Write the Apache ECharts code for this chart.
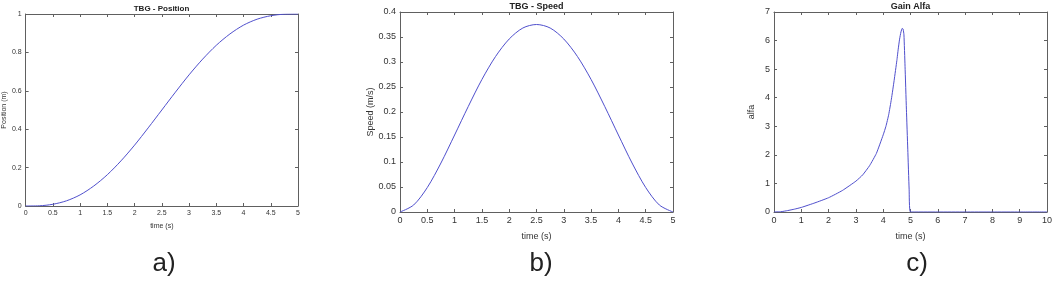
<!DOCTYPE html>
<html>
<head>
<meta charset="utf-8">
<script src="https://cdn.jsdelivr.net/npm/echarts/dist/echarts.min.js"></script>
<style>
html, body { margin: 0; padding: 0; background: #fff; }
#main { width: 1058px; height: 283px; }
</style>
</head>
<body>
<div id="main"></div>
<script>
// values
var timeA = [0, 0.25, 0.5, 0.75, 1, 1.25, 1.5, 1.75, 2, 2.25, 2.5, 2.75, 3, 3.25, 3.5, 3.75, 4, 4.25, 4.5, 4.75, 5];
var posA = [0, 0.001, 0.009, 0.027, 0.058, 0.104, 0.163, 0.235, 0.317, 0.407, 0.5, 0.593, 0.683, 0.765, 0.837, 0.896, 0.942, 0.973, 0.991, 0.999, 1];
var speedB = [0, 0.014, 0.049, 0.098, 0.154, 0.211, 0.265, 0.311, 0.346, 0.368, 0.375, 0.368, 0.346, 0.311, 0.265, 0.211, 0.154, 0.098, 0.049, 0.014, 0];
var timeC = [0, 0.25, 0.5, 0.75, 1, 1.5, 2, 2.5, 3, 3.25, 3.5, 3.75, 4, 4.1, 4.2, 4.3, 4.4, 4.5, 4.55, 4.6, 4.65, 4.7, 4.73, 4.76, 4.8, 4.85, 4.9, 4.95, 5, 6, 7, 8, 9, 10];
var alfaC = [0, 0.01, 0.05, 0.1, 0.16, 0.32, 0.5, 0.75, 1.08, 1.3, 1.62, 2.05, 2.7, 3.0, 3.4, 3.95, 4.6, 5.3, 5.7, 6.05, 6.3, 6.43, 6.4, 6.2, 5.1, 3.6, 2.2, 0.8, 0, 0, 0, 0, 0, 0];

var titles = ['TBG - Position', 'TBG - Speed', 'Gain Alfa'];
var yNames = ['Position (m)', 'Speed (m/s)', 'alfa'];
var panelTags = ['a)', 'b)', 'c)'];

var FONT = '"Liberation Sans", Arial, sans-serif';
var AXIS_COLOR = '#606060';
var LINE_COLOR = '#4f4fcc';

function pairs(xs, ys) {
  var out = [];
  for (var i = 0; i < xs.length; i++) {
    out.push([xs[i], ys[i]]);
  }
  return out;
}

// box style axis like matlab: ticks inside on all 4 sides
function makeAxis(gi, pos, min, max, step, fs, name, gap, labels) {
  return {
    type: 'value',
    gridIndex: gi,
    position: pos,
    min: min,
    max: max,
    interval: step,
    name: labels ? name : '',
    nameLocation: 'middle',
    nameGap: gap,
    nameTextStyle: { fontFamily: FONT, fontSize: fs, color: '#333' },
    axisLine: { show: true, onZero: false, lineStyle: { color: AXIS_COLOR, width: 1 } },
    axisTick: { show: true, inside: true, length: 3, lineStyle: { color: AXIS_COLOR } },
    axisLabel: { show: labels, margin: 4, fontFamily: FONT, fontSize: fs, color: '#333' },
    splitLine: { show: false }
  };
}

var chart = echarts.init(document.getElementById('main'));

var option = {
  backgroundColor: '#fff',
  animation: false,
  grid: [
    { left: 25, top: 14, width: 273, height: 192 },
    { left: 400, top: 12, width: 273, height: 200 },
    { left: 774, top: 12, width: 273, height: 200 }
  ],
  xAxis: [
    makeAxis(0, 'bottom', 0, 5, 0.5, 7, 'time (s)', 17, true),
    makeAxis(0, 'top', 0, 5, 0.5, 7, '', 0, false),
    makeAxis(1, 'bottom', 0, 5, 0.5, 9, 'time (s)', 20, true),
    makeAxis(1, 'top', 0, 5, 0.5, 9, '', 0, false),
    makeAxis(2, 'bottom', 0, 10, 1, 9, 'time (s)', 20, true),
    makeAxis(2, 'top', 0, 10, 1, 9, '', 0, false)
  ],
  yAxis: [
    makeAxis(0, 'left', 0, 1, 0.2, 7, yNames[0], 15, true),
    makeAxis(0, 'right', 0, 1, 0.2, 7, '', 0, false),
    makeAxis(1, 'left', 0, 0.4, 0.05, 9, yNames[1], 23, true),
    makeAxis(1, 'right', 0, 0.4, 0.05, 9, '', 0, false),
    makeAxis(2, 'left', 0, 7, 1, 9, yNames[2], 18, true),
    makeAxis(2, 'right', 0, 7, 1, 9, '', 0, false)
  ],
  graphic: [],
  series: [
    {
      type: 'line', xAxisIndex: 0, yAxisIndex: 0,
      data: pairs(timeA, posA), smooth: 0.3, showSymbol: false,
      lineStyle: { color: LINE_COLOR, width: 1 }
    },
    {
      type: 'line', xAxisIndex: 2, yAxisIndex: 2,
      data: pairs(timeA, speedB), smooth: 0.3, showSymbol: false,
      lineStyle: { color: LINE_COLOR, width: 1 }
    },
    {
      type: 'line', xAxisIndex: 4, yAxisIndex: 4,
      data: pairs(timeC, alfaC), smooth: 0.15, showSymbol: false,
      lineStyle: { color: LINE_COLOR, width: 1 }
    }
  ]
};

// titles above each panel and a) b) c) tags under them
var centers = [161.5, 536.5, 910.5];
var titleY = [9, 7, 7];
var titleSize = [8, 9, 9];
for (var i = 0; i < 3; i++) {
  option.graphic.push({
    type: 'text', x: centers[i], y: titleY[i],
    style: { text: titles[i], align: 'center', verticalAlign: 'middle', fontFamily: FONT, fontSize: titleSize[i], fontWeight: 'bold', fill: '#222' }
  });
  option.graphic.push({
    type: 'text', x: [164, 541, 917][i], y: 264,
    style: { text: panelTags[i], align: 'center', verticalAlign: 'middle', fontFamily: FONT, fontSize: 26, fill: '#222' }
  });
}

chart.setOption(option);
window.addEventListener('resize', function () {
  chart.resize();
});
</script>
</body>
</html>
